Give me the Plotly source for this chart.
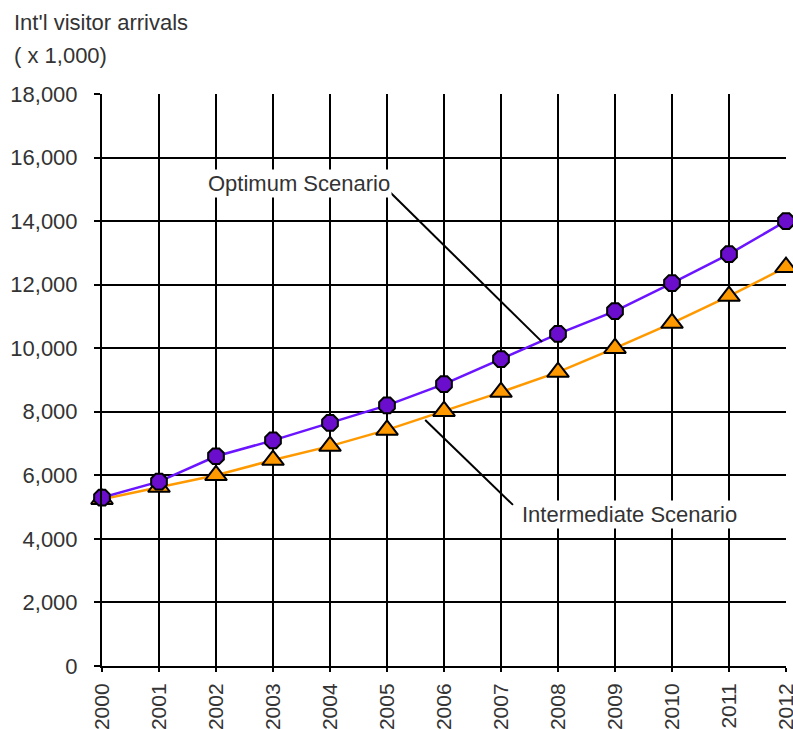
import plotly.graph_objects as go

# International visitor arrivals (x 1,000), two growth scenarios
years = [2000, 2001, 2002, 2003, 2004, 2005, 2006, 2007, 2008, 2009, 2010, 2011, 2012]
optimum = [5300, 5800, 6600, 7100, 7650, 8200, 8870, 9660, 10450, 11170, 12050, 12960, 14000]
intermediate = [5250, 5630, 6000, 6480, 6920, 7430, 8020, 8620, 9250, 10000, 10790, 11640, 12550]

y_ticks = [0, 2000, 4000, 6000, 8000, 10000, 12000, 14000, 16000, 18000]
y_tick_labels = [f"{v:,}" for v in y_ticks]

FONT = "Liberation Sans, Arial, sans-serif"
TEXT = "#333333"

fig = go.Figure()

fig.add_trace(go.Scatter(
    x=years, y=intermediate, mode="lines+markers", name="Intermediate Scenario",
    line=dict(color="#FF9900", width=2.5),
    marker=dict(symbol="triangle-up", size=19, color="#FF9900",
                line=dict(color="black", width=2)),
    cliponaxis=False,
))
fig.add_trace(go.Scatter(
    x=years, y=optimum, mode="lines+markers", name="Optimum Scenario",
    line=dict(color="#6B14FF", width=2.5),
    marker=dict(symbol="octagon", size=17, color="#6A0DCC",
                line=dict(color="black", width=2)),
    cliponaxis=False,
))

# Leader lines from the scenario labels to their curves
fig.add_shape(type="line", xref="x", yref="y", x0=2005.05, y0=14915, x1=2007.72, y1=10200,
              line=dict(color="black", width=2), layer="above")
fig.add_shape(type="line", xref="x", yref="y", x0=2005.67, y0=7740, x1=2007.21, y1=5070,
              line=dict(color="black", width=2), layer="above")

fig.add_annotation(x=2003.46, y=15170, xref="x", yref="y", text="Optimum Scenario",
                   showarrow=False, bgcolor="white", font=dict(family=FONT, size=22, color=TEXT),
                   xanchor="center", yanchor="middle", borderpad=1)
fig.add_annotation(x=2007.33, y=4780, xref="x", yref="y", text="Intermediate Scenario",
                   showarrow=False, bgcolor="white", font=dict(family=FONT, size=22, color=TEXT),
                   xanchor="left", yanchor="middle", borderpad=1)

# Axis unit label in the top-left corner
fig.add_annotation(x=-0.1316, y=1.125, xref="paper", yref="paper", text="Int'l visitor arrivals",
                   showarrow=False, font=dict(family=FONT, size=22, color=TEXT),
                   xanchor="left", yanchor="middle")
fig.add_annotation(x=-0.1316, y=1.067, xref="paper", yref="paper", text="( x 1,000)",
                   showarrow=False, font=dict(family=FONT, size=22, color=TEXT),
                   xanchor="left", yanchor="middle")

fig.update_layout(
    width=793, height=729,
    margin=dict(l=102, r=7, t=94, b=63, autoexpand=False),
    paper_bgcolor="white", plot_bgcolor="white",
    showlegend=False,
    font=dict(family=FONT, size=22, color=TEXT),
)
fig.update_xaxes(
    range=[2000, 2012], tickmode="array", tickvals=years,
    ticktext=[str(y) for y in years], tickangle=-90,
    ticklabeloverflow="allow", automargin=False,
    showgrid=True, gridcolor="black", gridwidth=2,
    showline=True, linecolor="black", linewidth=2,
    ticks="outside", ticklen=4, tickwidth=2, tickcolor="black",
    ticklabelstandoff=3,
    zeroline=False, tickfont=dict(family=FONT, size=21, color=TEXT),
)
fig.update_yaxes(
    range=[0, 18000], tickmode="array", tickvals=y_ticks, ticktext=y_tick_labels,
    automargin=False,
    showgrid=True, gridcolor="black", gridwidth=2,
    showline=True, linecolor="black", linewidth=2,
    ticks="outside", ticklen=6, tickwidth=2, tickcolor="black",
    ticklabelstandoff=12,
    zeroline=False, tickfont=dict(family=FONT, size=22, color=TEXT),
)

fig.write_html("out.html")
